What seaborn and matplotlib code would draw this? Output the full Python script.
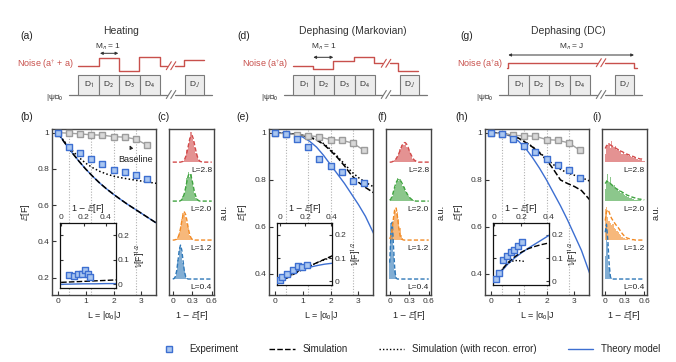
import matplotlib
matplotlib.use('Agg')
import matplotlib.pyplot as plt
import seaborn as sns
from matplotlib.lines import Line2D

sns.set_style('ticks')
plt.rcParams['font.family'] = ['Liberation Sans', 'DejaVu Sans']
plt.rcParams['mathtext.fontset'] = 'stixsans'
plt.rcParams['axes.linewidth'] = 0.9

# ---------------- data ----------------
L_exp = [0, 0.4, 0.8, 1.2, 1.6, 2.0, 2.4, 2.8, 3.2]
L_line = [0, 0.25, 0.5, 0.75, 1.0, 1.25, 1.5, 1.75, 2.0, 2.25, 2.5, 2.75, 3.0, 3.25, 3.55]
L_marks = [0.4, 1.2, 2.0, 2.8]

# (b) heating
b_exp = [1.0, 0.923, 0.889, 0.855, 0.826, 0.796, 0.781, 0.765, 0.745]
b_base = [1.0, 0.997, 0.993, 0.988, 0.986, 0.978, 0.975, 0.964, 0.931]
b_theory = [1.0, 0.945, 0.893, 0.845, 0.8, 0.76, 0.723, 0.69, 0.66, 0.632, 0.605, 0.58, 0.555, 0.53, 0.5]
b_sim = [1.0, 0.945, 0.893, 0.845, 0.8, 0.76, 0.723, 0.69, 0.66, 0.632, 0.605, 0.58, 0.555, 0.53, 0.5]
b_recon = [1.0, 0.95, 0.905, 0.865, 0.832, 0.807, 0.787, 0.772, 0.76, 0.752, 0.745, 0.739, 0.733, 0.727, 0.72]

# (e) dephasing markovian
e_exp = [1.0, 0.997, 0.974, 0.939, 0.891, 0.858, 0.832, 0.794, 0.787]
e_base = [1.0, 0.997, 0.993, 0.989, 0.983, 0.972, 0.969, 0.957, 0.926]
e_theory = [1.0, 1.0, 0.998, 0.993, 0.983, 0.965, 0.94, 0.905, 0.865, 0.825, 0.785, 0.74, 0.695, 0.645, 0.57]
e_sim = [1.0, 1.0, 0.998, 0.995, 0.99, 0.982, 0.97, 0.952, 0.925, 0.895, 0.86, 0.82, 0.79, 0.768, 0.745]
e_recon = [1.0, 1.0, 0.998, 0.995, 0.99, 0.983, 0.972, 0.955, 0.93, 0.9, 0.868, 0.835, 0.81, 0.79, 0.77]

# (h) dephasing DC
h_exp = [1.0, 0.997, 0.974, 0.943, 0.919, 0.889, 0.865, 0.844, 0.809]
h_base = [1.0, 0.997, 0.99, 0.988, 0.986, 0.972, 0.969, 0.958, 0.926]
h_theory = [1.0, 1.0, 0.995, 0.985, 0.965, 0.935, 0.895, 0.85, 0.8, 0.745, 0.69, 0.63, 0.565, 0.5, 0.4]
h_sim = [1.0, 1.0, 0.997, 0.99, 0.978, 0.96, 0.94, 0.915, 0.885, 0.845, 0.8, 0.785, 0.772, 0.755, 0.715]
h_recon = [1.0, 1.0, 0.997, 0.99, 0.978, 0.961, 0.942, 0.918, 0.89, 0.865, 0.845, 0.83, 0.82, 0.81, 0.795]

# insets: 1-E[F] vs V[F]^1/2
bi_x = [0.073, 0.115, 0.152, 0.182, 0.215, 0.236, 0.258]
bi_y = [0.0375, 0.032, 0.044, 0.042, 0.058, 0.044, 0.031]
bi_lx = [0, 0.1, 0.2, 0.3, 0.4, 0.49]
bi_sim = [0.008, 0.01, 0.012, 0.014, 0.016, 0.018]
bi_theory = [0.0, 0.001, 0.002, 0.002, 0.003, 0.003]

ei_x = [0.0, 0.018, 0.057, 0.108, 0.141, 0.177, 0.211]
ei_y = [0.007, 0.021, 0.033, 0.048, 0.067, 0.06, 0.069]
ei_lx = [0, 0.05, 0.1, 0.15, 0.2, 0.25, 0.3, 0.35, 0.41]
ei_theory = [0.0, 0.022, 0.036, 0.047, 0.056, 0.063, 0.069, 0.074, 0.078]
ei_sim = [-0.005, 0.012, 0.028, 0.043, 0.057, 0.07, 0.083, 0.095, 0.11]
ei_recon = [-0.005, 0.014, 0.03, 0.045, 0.058, 0.07, 0.082, 0.093, 0.105]

hi_x = [0.012, 0.037, 0.069, 0.093, 0.123, 0.149, 0.178, 0.207]
hi_y = [0.011, 0.037, 0.09, 0.107, 0.125, 0.136, 0.152, 0.167]
hi_lx = [0, 0.05, 0.1, 0.15, 0.2, 0.25, 0.3, 0.35, 0.405]
hi_theory = [0.0, 0.04, 0.074, 0.1, 0.122, 0.142, 0.16, 0.178, 0.198]
hi_sim = [0.0, 0.045, 0.08, 0.105, 0.125, 0.14, 0.15, 0.158, 0.165]
hi_rx = [0, 0.05, 0.1, 0.15, 0.2, 0.23]
hi_recon = [0, 0.045, 0.078, 0.09, 0.088, 0.085]

# histograms of 1-E[F], bins of 0.02 starting at 0 (L = 0.4, 1.2, 2.0, 2.8)
HX = [round(0.02 * k, 2) for k in range(31)]
hist_labels = ['L=0.4', 'L=1.2', 'L=2.0', 'L=2.8']
c_bars = [
    [0.0, 0.02, 0.08, 0.18, 0.5, 0.82, 0.8, 0.7, 0.4, 0.22, 0.05, 0.02],
    [0, 0, 0.0, 0.03, 0.08, 0.2, 0.35, 0.55, 0.7, 0.66, 0.58, 0.45, 0.3, 0.12, 0.05, 0.02, 0.0],
    [0, 0, 0, 0, 0, 0, 0.0, 0.03, 0.12, 0.22, 0.4, 0.58, 0.75, 0.62, 0.7, 0.48, 0.3, 0.18, 0.08, 0.03, 0.0],
    [0, 0, 0, 0, 0, 0, 0, 0, 0.03, 0.06, 0.15, 0.3, 0.45, 0.62, 0.78, 0.6, 0.55, 0.38, 0.24, 0.12, 0.05, 0.02, 0],
]
c_fits = [
    [0.0, 0.01, 0.06, 0.2, 0.45, 0.74, 0.87, 0.74, 0.45, 0.2, 0.06, 0.01],
    [0, 0, 0.01, 0.02, 0.06, 0.15, 0.3, 0.49, 0.65, 0.72, 0.65, 0.49, 0.3, 0.15, 0.06, 0.02, 0.01],
    [0, 0, 0, 0, 0, 0, 0.01, 0.04, 0.1, 0.2, 0.35, 0.52, 0.66, 0.71, 0.66, 0.52, 0.35, 0.2, 0.1, 0.04, 0.01],
    [0, 0, 0, 0, 0, 0, 0, 0.01, 0.02, 0.06, 0.14, 0.26, 0.42, 0.58, 0.68, 0.68, 0.58, 0.42, 0.26, 0.14, 0.06, 0.02, 0.01],
]
f_bars = [
    [0.5, 1.45, 1.3, 0.65, 0.22, 0.03],
    [0.0, 0.05, 0.25, 0.5, 0.75, 0.7, 0.72, 0.55, 0.3, 0.12, 0.04, 0.01],
    [0.0, 0.05, 0.12, 0.25, 0.35, 0.5, 0.58, 0.52, 0.56, 0.45, 0.4, 0.36, 0.25, 0.2, 0.14, 0.1, 0.06, 0.04, 0.02, 0.01],
    [0, 0, 0, 0.02, 0.05, 0.1, 0.14, 0.22, 0.34, 0.44, 0.42, 0.44, 0.46, 0.4, 0.36, 0.28, 0.2, 0.12, 0.08, 0.04, 0.02, 0.0],
]
f_fits = [
    [0.42, 1.19, 1.46, 0.78, 0.19, 0.02],
    [0.03, 0.11, 0.31, 0.59, 0.82, 0.82, 0.59, 0.31, 0.11, 0.03, 0.01],
    [0.02, 0.06, 0.14, 0.26, 0.38, 0.48, 0.54, 0.56, 0.54, 0.49, 0.42, 0.35, 0.28, 0.21, 0.15, 0.1, 0.07, 0.04, 0.02, 0.01],
    [0, 0, 0.01, 0.03, 0.05, 0.09, 0.15, 0.22, 0.3, 0.39, 0.46, 0.5, 0.5, 0.46, 0.39, 0.3, 0.22, 0.15, 0.09, 0.05, 0.03, 0.01],
]
i_bars = [
    [0.6, 1.45, 0.9, 0.3, 0.08, 0.02],
    [0.8, 0.85, 0.6, 0.5, 0.45, 0.38, 0.42, 0.3, 0.28, 0.22, 0.2, 0.15, 0.12, 0.08, 0.06, 0.04, 0.03, 0.02, 0.01],
    [0.3, 0.55, 0.7, 0.5, 0.62, 0.45, 0.4, 0.42, 0.3, 0.32, 0.25, 0.28, 0.2, 0.22, 0.17, 0.15, 0.13, 0.1, 0.1, 0.08,
     0.07, 0.05, 0.05, 0.04, 0.03, 0.03, 0.02, 0.02, 0.01, 0.01, 0.01],
    [0.2, 0.4, 0.45, 0.5, 0.35, 0.55, 0.4, 0.38, 0.42, 0.3, 0.33, 0.28, 0.3, 0.22, 0.25, 0.2, 0.2, 0.17, 0.15, 0.15,
     0.12, 0.12, 0.1, 0.1, 0.08, 0.07, 0.06, 0.05, 0.05, 0.04, 0.03],
]
i_fits = [
    [1.2, 1.4, 1.0, 0.4, 0.06, 0.0],
    [0.5, 0.72, 0.78, 0.72, 0.62, 0.55, 0.5, 0.45, 0.4, 0.36, 0.32, 0.27, 0.22, 0.17, 0.13, 0.1, 0.07, 0.05, 0.04,
     0.03, 0.02, 0.01, 0.01],
    [0.45, 0.5, 0.5, 0.48, 0.45, 0.42, 0.39, 0.36, 0.33, 0.31, 0.29, 0.27, 0.25, 0.23, 0.21, 0.19, 0.17, 0.15, 0.14,
     0.12, 0.11, 0.1, 0.09, 0.08, 0.07, 0.06, 0.05, 0.05, 0.04, 0.04, 0.03],
    [0.35, 0.42, 0.45, 0.45, 0.44, 0.42, 0.4, 0.38, 0.36, 0.34, 0.32, 0.3, 0.28, 0.27, 0.25, 0.23, 0.22, 0.2, 0.19,
     0.17, 0.16, 0.15, 0.14, 0.12, 0.11, 0.1, 0.09, 0.08, 0.08, 0.07, 0.07],
]

# ---------------- style ----------------
BLUE = '#3d6fd1'
SQ_FACE = '#a9c6f0'
GRAY = '#a3a3a3'
NOISE = '#c8504c'
HCOLS = ['#2f78b8', '#f28a24', '#3fa33f', '#d24a4a']
SPINE = '#444444'
DASH = (0, (4, 1.6))

W, H = 676, 362
fig = plt.figure(figsize=(W / 100, H / 100), dpi=100)


def rect(x0, y0, x1, y1):
    return [x0 / W, 1 - y1 / H, (x1 - x0) / W, (y1 - y0) / H]


# overlay axes in pixel coordinates for schematics and panel letters
ov = fig.add_axes([0, 0, 1, 1])
ov.set_xlim(0, W)
ov.set_ylim(H, 0)
ov.axis('off')


def schematic(x0, title, title_x, mlab, mlab_x, arr, arr_y, nlab, noise1, noise2, letter, letter_x):
    ov.text(letter_x, 36, letter, fontsize=7.5, ha='center', va='center', color='#222')
    ov.text(title_x, 30.5, title, fontsize=7.5, ha='center', va='center', color='#333')
    ov.text(mlab_x, 47, mlab, fontsize=6, ha='center', va='center', color='#333')
    ov.annotate('', xy=(x0 + arr[1], arr_y), xytext=(x0 + arr[0], arr_y),
                arrowprops=dict(arrowstyle='<|-|>', color='#333', lw=0.7,
                                mutation_scale=4, shrinkA=0, shrinkB=0))
    ov.text(x0 - 4.5, 64.5, nlab, fontsize=6.5, ha='right', va='center', color=NOISE)
    for seg in (noise1, noise2):
        ov.plot([x0 + p[0] for p in seg], [p[1] for p in seg], color=NOISE, lw=1.0)
    ny = noise1[-1][1]
    for dx in (90.5, 95):
        ov.plot([x0 + dx - 2.5, x0 + dx + 2.5], [ny + 4, ny - 4], color=NOISE, lw=0.8)
    # baseline
    ov.plot([x0 - 9, x0 + 88.5], [94.5, 94.5], color='#777', lw=0.9, zorder=1)
    ov.plot([x0 + 97, x0 + 134], [94.5, 94.5], color='#777', lw=0.9, zorder=1)
    for dx in (90.5, 95):
        ov.plot([x0 + dx - 2.5, x0 + dx + 2.5], [98.5, 90.5], color='#777', lw=0.8)
    bw = 20.4
    names = ['D$_1$', 'D$_2$', 'D$_3$', 'D$_4$']
    for i, nm in enumerate(names):
        ov.add_patch(plt.Rectangle((x0 + i * bw, 75), bw, 19.5, facecolor='#ececec',
                                   edgecolor='#7a7a7a', lw=0.8, zorder=2))
        ov.text(x0 + i * bw + bw / 2, 85, nm, fontsize=6, ha='center', va='center', color='#333', zorder=3)
    ov.add_patch(plt.Rectangle((x0 + 106.5, 75), 19.5, 19.5, facecolor='#ececec',
                               edgecolor='#7a7a7a', lw=0.8, zorder=2))
    ov.text(x0 + 116.2, 85, 'D$_J$', fontsize=6, ha='center', va='center', color='#333', zorder=3)
    ov.text(x0 - 23.5, 97.5, '|ψ⟩$_0$', fontsize=6, ha='center', va='center', color='#333')


schematic(78.3, 'Heating', 120.7, 'M$_n$ = 1', 108, (21.7, 40), 53.3, 'Noise (a$^{\\dagger}$ + a)',
          [(0, 65.7), (20.7, 65.7), (20.7, 58.3), (40.7, 58.3), (40.7, 71), (61, 71), (61, 57.3),
           (81.7, 57.3), (81.7, 65.7), (89, 65.7)],
          [(97, 65.7), (105.7, 65.7), (105.7, 60), (125.7, 60)], '(a)', 26.7)
schematic(293.3, 'Dephasing (Markovian)', 353.3, 'M$_n$ = 1', 324.3, (20, 40), 57.3, 'Noise (a$^{\\dagger}$a)',
          [(0, 65.7), (20, 65.7), (20, 69.3), (40, 69.3), (40, 61), (60.7, 61), (60.7, 57.3),
           (80.7, 57.3), (80.7, 63.3), (88.4, 63.3)],
          [(96.7, 63.3), (105, 63.3), (105, 70.7), (125, 70.7)], '(d)', 243.3)
schematic(508.3, 'Dephasing (DC)', 568.3, 'M$_n$ = J', 571.7, (0, 125.7), 55, 'Noise (a$^{\\dagger}$a)',
          [(-1.6, 67.7), (0, 67.7), (0, 62.7), (88.4, 62.7)],
          [(96.7, 62.7), (125.7, 62.7), (125.7, 67.7), (128.4, 67.7)], '(g)', 466.7)

for lab, lx in [('(b)', 26.7), ('(c)', 164), ('(e)', 243.3), ('(f)', 382), ('(h)', 461.7), ('(i)', 597.5)]:
    ov.text(lx, 117, lab, fontsize=7.5, ha='center', va='center', color='#222')


def style_axes(ax):
    for s in ax.spines.values():
        s.set_color(SPINE)
        s.set_linewidth(1.0)
    ax.tick_params(direction='in', length=3, width=0.8, labelsize=6, pad=2, colors='#333')


def main_panel(x0, exp, base, theory, sim, recon, ylim, yticks):
    ax = fig.add_axes(rect(x0, 129, x0 + 104, 295))
    style_axes(ax)
    for lm in L_marks:
        ax.axvline(lm, color='#b0b0b0', lw=0.8, ls=(0, (1, 1.5)), zorder=0)
    sns.lineplot(x=L_line, y=theory, ax=ax, color=BLUE, lw=1.0, sort=False, estimator=None, zorder=2)
    sns.lineplot(x=L_line, y=sim, ax=ax, color='k', lw=1.1, linestyle=DASH, sort=False, estimator=None, zorder=3)
    sns.lineplot(x=L_line, y=recon, ax=ax, color='k', lw=1.1, linestyle=(0, (1, 1.5)), sort=False,
                 estimator=None, zorder=3)
    sns.lineplot(x=L_exp, y=base, ax=ax, color=GRAY, lw=1.0, marker='s', markersize=4.2,
                 markerfacecolor='#d8d8d8', markeredgecolor='#9c9c9c', markeredgewidth=1.0,
                 sort=False, estimator=None, zorder=4)
    sns.scatterplot(x=L_exp, y=exp, ax=ax, marker='s', s=20, color=SQ_FACE, edgecolor=BLUE,
                    linewidth=1.0, zorder=5)
    ax.set_xlim(-0.2, 3.52)
    ax.set_ylim(*ylim)
    ax.set_xticks([0, 1, 2, 3])
    ax.set_yticks(yticks)
    ax.set_yticklabels([f'{v:g}' for v in yticks])
    ax.set_xlabel('L = |α$_0$|J', fontsize=6.5, labelpad=3, color='#222')
    ax.set_ylabel('$\\mathbb{E}$[F]', fontsize=6.5, labelpad=4, color='#222')
    return ax


def inset(box, xs, ys, lines, xlim, xticks):
    ax = fig.add_axes(rect(*box))
    ax.set_facecolor('white')
    for s in ax.spines.values():
        s.set_color('#111')
        s.set_linewidth(0.9)
    ax.tick_params(direction='in', length=2.5, width=0.8, labelsize=6, pad=1.5, colors='#333',
                   top=True, labeltop=True, bottom=False, labelbottom=False,
                   right=True, labelright=True, left=True, labelleft=False)
    for lx, ly, col, ls in lines:
        sns.lineplot(x=lx, y=ly, ax=ax, color=col, lw=1.0, linestyle=ls, sort=False, estimator=None)
    sns.scatterplot(x=xs, y=ys, ax=ax, marker='s', s=18, color=SQ_FACE, edgecolor=BLUE,
                    linewidth=1.0, zorder=5)
    ax.set_xlim(*xlim)
    ax.set_ylim(-0.015, 0.25)
    ax.set_xticks(xticks)
    ax.set_xticklabels([f'{v:g}' for v in xticks])
    ax.set_yticks([0, 0.1, 0.2])
    ax.set_yticklabels(['0', '0.1', '0.2'])
    ax.xaxis.set_label_position('top')
    ax.yaxis.set_label_position('right')
    ax.set_xlabel('1 $-$ $\\mathbb{E}$[F]', fontsize=6.5, labelpad=2, color='#222')
    ax.set_ylabel('$\\mathbb{V}$[F]$^{1/2}$', fontsize=6.5, labelpad=2, color='#222')
    return ax


def hist_panel(x0, bars, fits):
    ax = fig.add_axes(rect(x0, 129, x0 + 45, 295))
    style_axes(ax)
    for k, (bv, fv) in enumerate(zip(bars, fits)):
        col = HCOLS[k]
        ax.bar(HX[:len(bv)], bv, width=0.02, bottom=k, color=col, alpha=0.6, lw=0, align='center')
        full = [k + v for v in fv] + [k] * (len(HX) - len(fv))
        sns.lineplot(x=HX, y=full, ax=ax, color=col, lw=1.0, linestyle=(0, (3, 1.6)),
                     sort=False, estimator=None)
        ax.text(0.605, k - 0.22, hist_labels[k], fontsize=6, ha='right', va='center', color='#222')
    ax.set_xlim(-0.057, 0.635)
    ax.set_ylim(-0.41, 3.85)
    ax.set_xticks([0, 0.3, 0.6])
    ax.set_xticklabels(['0', '0.3', '0.6'])
    ax.set_yticks([])
    ax.yaxis.set_label_position('right')
    ax.set_ylabel('a.u.', fontsize=6.5, labelpad=4, color='#222')
    ax.set_xlabel('1 $-$ $\\mathbb{E}$[F]', fontsize=6.5, labelpad=3, color='#222')
    return ax


ax_b = main_panel(52, b_exp, b_base, b_theory, b_sim, b_recon, (0.105, 1.02), [0.2, 0.4, 0.6, 0.8, 1])
ax_b.annotate('Baseline', xy=(2.58, 0.93), xytext=(2.8, 0.852), fontsize=6.5, ha='center', va='center',
              color='#222', arrowprops=dict(arrowstyle='-|>', color='#222', lw=0.7, mutation_scale=5,
                                            shrinkA=3, shrinkB=0))
inset((60, 223, 116, 288), bi_x, bi_y,
      [(bi_lx, bi_theory, BLUE, '-'), (bi_lx, bi_sim, 'k', DASH)], (-0.01, 0.49), [0, 0.2, 0.4])
hist_panel(169, c_bars, c_fits)

main_panel(269, e_exp, e_base, e_theory, e_sim, e_recon, (0.31, 1.017), [0.4, 0.6, 0.8, 1])
inset((277, 223, 332.3, 285), ei_x, ei_y,
      [(ei_lx, ei_theory, BLUE, '-'), (ei_lx, ei_sim, 'k', DASH), (ei_lx, ei_recon, 'k', (0, (1, 1.5)))],
      (-0.02, 0.41), [0, 0.2, 0.4])
hist_panel(386, f_bars, f_fits)

main_panel(485, h_exp, h_base, h_theory, h_sim, h_recon, (0.31, 1.017), [0.4, 0.6, 0.8, 1])
inset((492.7, 223, 549.3, 285), hi_x, hi_y,
      [(hi_lx, hi_theory, BLUE, '-'), (hi_lx, hi_sim, 'k', DASH), (hi_rx, hi_recon, 'k', (0, (1, 1.5)))],
      (-0.01, 0.405), [0, 0.2, 0.4])
hist_panel(601.5, i_bars, i_fits)

handles = [
    Line2D([], [], marker='s', ls='none', markerfacecolor=SQ_FACE, markeredgecolor=BLUE, markersize=4.5,
           markeredgewidth=1.0),
    Line2D([], [], color='k', lw=1.0, ls=DASH),
    Line2D([], [], color='k', lw=1.0, ls=(0, (1, 1.5))),
    Line2D([], [], color=BLUE, lw=1.0),
]
fig.legend(handles, ['Experiment', 'Simulation', 'Simulation (with recon. error)', 'Theory model'],
           loc='center', bbox_to_anchor=(408 / W, 1 - 349 / H), ncol=4, frameon=False, fontsize=7,
           handlelength=2.6, columnspacing=3.2, handletextpad=0.8)

fig.savefig('out.png', dpi=100)
